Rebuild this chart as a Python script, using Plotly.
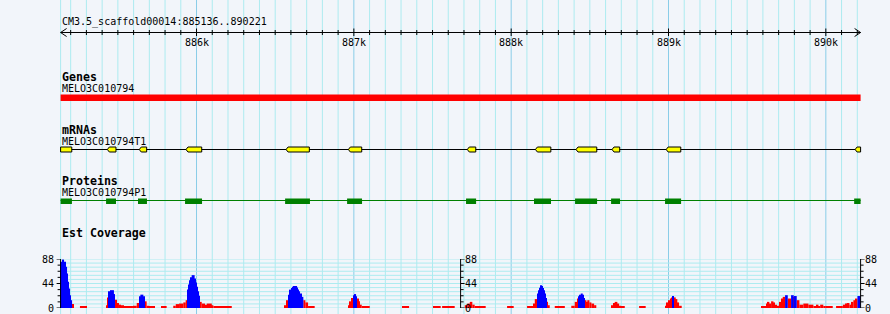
import plotly.graph_objects as go

# ---------------- data ----------------
region_label = "CM3.5_scaffold00014:885136..890221"
region_start = 885136
region_end = 890221

ruler_major = [886000, 887000, 888000, 889000, 890000]
ruler_major_labels = ["886k", "887k", "888k", "889k", "890k"]

gene_name = "MELO3C010794"
gene_start, gene_end = 885136, 890221

mrna_name = "MELO3C010794T1"
mrna_exon_start = [885136, 885433, 885636, 885933, 886569, 886965, 887721, 888154, 888412, 888641, 888985, 890186]
mrna_exon_end = [885207, 885488, 885683, 886033, 886717, 887050, 887775, 888252, 888544, 888690, 889078, 890221]

protein_name = "MELO3C010794P1"
cds_start = [885136, 885425, 885628, 885927, 886563, 886957, 887713, 888145, 888406, 888635, 888978, 890180]
cds_end = [885208, 885488, 885685, 886035, 886721, 887052, 887777, 888253, 888546, 888692, 889080, 890221]

cov_max = 88
cov_tick_labels = [0, 44, 88]

# EST coverage runs: start (bp), end (bp), depth, colour class (B = blue, R = red)
cov_start = [885136, 885145, 885158, 885170, 885177, 885183, 885189, 885196, 885202, 885209, 885215,
             885259,
             885425, 885433, 885442, 885450, 885475, 885482, 885493, 885507, 885520, 885539,
             885596, 885620, 885636, 885643, 885662, 885668, 885683, 885698,
             885774,
             885852, 885868, 885889, 885916, 885931, 885944, 885950, 885957, 885963, 885969, 885988,
             885995, 886001, 886008, 886016, 886022, 886033, 886054, 886065, 886097, 886107,
             886561, 886571, 886582, 886588, 886594, 886601, 886607, 886613, 886639, 886645, 886651,
             886658, 886666, 886679, 886692, 886709,
             886963, 886974, 886984, 886995, 887001, 887014, 887020, 887028, 887039, 887050,
             887306, 887503, 887561,
             887705, 887721, 887737, 887753, 887768,
             887974,
             888101, 888139, 888150, 888166, 888173, 888179, 888186, 888192, 888198, 888205, 888211,
             888217, 888224, 888234,
             888277,
             888382, 888404, 888419, 888430, 888436, 888442, 888455, 888461, 888468, 888478, 888484,
             888497, 888510, 888527,
             888637, 888648, 888658, 888675, 888686, 888694,
             888813,
             888978, 888989, 888999, 889010, 889021, 889027, 889034, 889046, 889056, 889067,
             889588, 889620, 889631, 889641, 889652, 889667, 889677, 889688, 889705, 889716, 889726,
             889741, 889758, 889779, 889796, 889803, 889815, 889832, 889857, 889889, 889921, 889943,
             889953, 889964, 889984, 890000,
             890065, 890108, 890122, 890133, 890150, 890165, 890175, 890191, 890201]
cov_end = [885145, 885158, 885170, 885177, 885183, 885189, 885196, 885202, 885209, 885215, 885221,
           885304,
           885433, 885442, 885450, 885475, 885482, 885493, 885507, 885520, 885539, 885596,
           885620, 885636, 885643, 885662, 885668, 885683, 885698, 885736,
           885810,
           885868, 885889, 885916, 885931, 885944, 885950, 885957, 885963, 885969, 885988, 885995,
           886001, 886008, 886016, 886022, 886033, 886054, 886065, 886097, 886107, 886224,
           886571, 886582, 886588, 886594, 886601, 886607, 886613, 886639, 886645, 886651, 886658,
           886666, 886679, 886692, 886709, 886751,
           886974, 886984, 886995, 887001, 887014, 887020, 887028, 887039, 887050, 887101,
           887351, 887552, 887641,
           887721, 887737, 887753, 887768, 887838,
           888016,
           888139, 888150, 888166, 888173, 888179, 888186, 888192, 888198, 888205, 888211, 888217,
           888224, 888234, 888245,
           888341,
           888404, 888419, 888430, 888436, 888442, 888455, 888461, 888468, 888478, 888484, 888497,
           888510, 888527, 888541,
           888648, 888658, 888675, 888686, 888694, 888722,
           888855,
           888989, 888999, 889010, 889021, 889027, 889034, 889046, 889056, 889067, 889084,
           889620, 889631, 889641, 889652, 889667, 889677, 889688, 889705, 889716, 889726, 889741,
           889758, 889779, 889796, 889803, 889815, 889832, 889857, 889889, 889921, 889943, 889953,
           889964, 889984, 890000, 890044,
           890108, 890122, 890133, 890150, 890165, 890175, 890191, 890201, 890221]
cov_depth = [83, 87, 83, 74, 62, 47, 35, 23, 14, 7, 2,
             2,
             5, 19, 30, 32, 25, 15, 9, 6, 5, 2,
             4, 9, 21, 24, 21, 12, 4, 2,
             2,
             4, 7, 8, 10, 14, 33, 42, 50, 55, 59, 53,
             46, 38, 30, 22, 11, 8, 6, 8, 5, 2,
             5, 14, 24, 30, 33, 36, 38, 39.5, 37, 33, 30,
             26, 20, 14, 10, 2,
             5, 12, 18, 23, 25, 21, 17, 12, 6, 2,
             2, 2, 2,
             5, 8, 11, 6, 2,
             2,
             2, 8, 16, 26, 32, 36.5, 41, 39.5, 36, 32, 26,
             18, 11, 5,
             2,
             4, 11, 17, 21, 24, 26, 24, 18, 14, 11, 14,
             10, 8, 5,
             5, 9, 11, 8, 4, 2,
             2,
             4, 10, 14, 17, 19, 21.5, 19, 16, 10, 4,
             3, 8, 11, 8, 12, 10, 6, 4, 11, 17, 20,
             23, 17, 23, 20, 21.5, 14, 6, 8, 6, 3,
             6, 3, 6, 3, 2,
             3, 6, 8, 9, 6, 11, 14, 17, 21.5]
cov_class = (["B"] * 9 + ["R"] * 2 +
             ["R"] +
             ["R", "R", "B", "B", "B", "R", "R", "R", "R", "R"] +
             ["R", "R", "B", "B", "B", "R", "R", "R"] +
             ["R"] +
             ["R"] * 5 + ["B"] * 10 + ["R"] * 6 +
             ["R"] * 2 + ["B"] * 11 + ["R"] * 3 +
             ["R"] * 3 + ["B"] * 3 + ["R"] * 4 +
             ["R"] * 3 +
             ["R"] * 5 +
             ["R"] +
             ["R"] * 3 + ["B"] * 9 + ["R"] * 2 +
             ["R"] +
             ["R"] * 3 + ["B"] * 5 + ["R"] * 6 +
             ["R"] * 6 +
             ["R"] +
             ["R"] * 5 + ["B"] + ["R"] * 4 +
             ["R"] * 11 + ["B", "R", "B", "R", "B"] + ["R"] * 10 +
             ["R"] * 8 + ["B"])

# ---------------- geometry / style ----------------
W, H = 890, 314
PX_LEFT, PX_RIGHT = 60.6, 860.6
px_per_bp = (PX_RIGHT - PX_LEFT) / (region_end - region_start)
x_lo = region_start - PX_LEFT / px_per_bp
x_hi = x_lo + W / px_per_bp
bp_per_px = 1.0 / px_per_bp

BG = "#F2F5FA"
GRID_MINOR = "#ADEBF0"
GRID_MAJOR = "#8ACDE8"
HGRID = "#ADEBF0"
FONT = "DejaVu Sans Mono"
BLUE = "#0000FF"
RED = "#FF0000"

shapes = []
annotations = []

# vertical grid lines every 100 bp
g = (region_start // 100 + 1) * 100
grid_pos = [region_start]
while g <= region_end:
    grid_pos.append(g)
    g += 100
for gp in grid_pos:
    major = gp % 1000 == 0
    shapes.append(dict(type="line", xref="x", yref="paper", x0=gp, x1=gp, y0=0, y1=1,
                       line=dict(color=GRID_MAJOR if major else GRID_MINOR, width=1), layer="below"))

# horizontal grid lines in coverage panel
nh = 12
for i in range(nh + 1):
    v = cov_max * i / nh
    shapes.append(dict(type="line", xref="x", yref="y2", x0=region_start, x1=region_end, y0=v, y1=v,
                       line=dict(color=HGRID, width=1), layer="below"))

# ruler
RY = 32.5
shapes.append(dict(type="line", xref="x", yref="y", x0=region_start, x1=region_end, y0=RY, y1=RY,
                   line=dict(color="black", width=1)))
for gp in grid_pos[1:]:
    major = gp % 1000 == 0
    shapes.append(dict(type="line", xref="x", yref="y", x0=gp, x1=gp,
                       y0=RY - (4 if major else 2.5), y1=RY + (3.5 if major else 2.5),
                       line=dict(color="black", width=1)))
a = 6 * bp_per_px
shapes.append(dict(type="path", xref="x", yref="y",
                   path=f"M {region_start + a},{RY - 4} L {region_start},{RY} L {region_start + a},{RY + 4}",
                   line=dict(color="black", width=1)))
shapes.append(dict(type="path", xref="x", yref="y",
                   path=f"M {region_end - a},{RY - 4} L {region_end},{RY} L {region_end - a},{RY + 4}",
                   line=dict(color="black", width=1)))

def text(x, y, s, size=10, bold=False, xanchor="left", xref="x"):
    annotations.append(dict(x=x, y=y, xref=xref, yref="y", text=f"<b>{s}</b>" if bold else s,
                            showarrow=False, xanchor=xanchor, yanchor="middle",
                            font=dict(family=FONT, size=size, color="black"), borderpad=0))

text(region_start, 21.8, region_label)
for p, lab in zip(ruler_major, ruler_major_labels):
    text(p, 42.5, lab, xanchor="center")

# Genes track
text(region_start, 76.5, "Genes", size=11.6, bold=True)
text(gene_start, 88.5, gene_name)
shapes.append(dict(type="rect", xref="x", yref="y", x0=gene_start, x1=gene_end, y0=94.5, y1=101,
                   fillcolor=RED, line=dict(width=0)))

# mRNA track
text(region_start, 129.5, "mRNAs", size=11.6, bold=True)
text(mrna_exon_start[0], 141, mrna_name)
MY = 149.5
shapes.append(dict(type="line", xref="x", yref="y", x0=mrna_exon_start[0], x1=mrna_exon_end[-1],
                   y0=MY, y1=MY, line=dict(color="black", width=1)))
n = 2 * bp_per_px
for i, (s, e) in enumerate(zip(mrna_exon_start, mrna_exon_end)):
    if i == 0:
        path = f"M {s},{MY - 2.5} L {e},{MY - 2.5} L {e},{MY + 2.5} L {s},{MY + 2.5} Z"
    else:
        path = (f"M {s},{MY} L {s + n},{MY - 2.5} L {e},{MY - 2.5} L {e},{MY + 2.5} "
                f"L {s + n},{MY + 2.5} Z")
    shapes.append(dict(type="path", xref="x", yref="y", path=path, fillcolor="#FFFF00",
                       line=dict(color="black", width=1)))

# Protein track
text(region_start, 180.5, "Proteins", size=11.6, bold=True)
text(cds_start[0], 192.5, protein_name)
PY = 201
shapes.append(dict(type="line", xref="x", yref="y", x0=cds_start[0], x1=cds_end[-1],
                   y0=PY - 0.5, y1=PY - 0.5, line=dict(color="#008000", width=1)))
for s, e in zip(cds_start, cds_end):
    shapes.append(dict(type="rect", xref="x", yref="y", x0=s, x1=e, y0=PY - 2.5, y1=PY + 3,
                       fillcolor="#008000", line=dict(width=0)))

# Coverage track
text(region_start, 232.5, "Est Coverage", size=11.6, bold=True)
axes_pos = [region_start, (region_start + region_end) / 2, region_end]
for j, ax in enumerate(axes_pos):
    shapes.append(dict(type="line", xref="x", yref="y2", x0=ax, x1=ax, y0=0, y1=cov_max,
                       line=dict(color="black", width=1)))
    direction = -1 if j == 0 else 1
    for t in range(0, cov_max + 1, 11):
        ln = (4 if t % 44 == 0 else 3) * bp_per_px
        shapes.append(dict(type="line", xref="x", yref="y2", x0=ax, x1=ax + direction * ln, y0=t, y1=t,
                           line=dict(color="black", width=1)))
    for t in cov_tick_labels:
        ypix = 308 - t * (49 / cov_max)
        if j == 0:
            annotations.append(dict(x=ax - 5 * bp_per_px, y=ypix, xref="x", yref="y", text=str(t),
                                    showarrow=False, xanchor="right", yanchor="middle",
                                    font=dict(family=FONT, size=10, color="black")))
        else:
            annotations.append(dict(x=ax + 2 * bp_per_px, y=ypix, xref="x", yref="y", text=str(t),
                                    showarrow=False, xanchor="left", yanchor="middle",
                                    font=dict(family=FONT, size=10, color="black")))

fig = go.Figure()
for cls, col in (("R", RED), ("B", BLUE)):
    xs, ws, ys = [], [], []
    for s, e, d, c in zip(cov_start, cov_end, cov_depth, cov_class):
        if c == cls:
            xs.append((s + e) / 2)
            ws.append(e - s)
            ys.append(d)
    fig.add_trace(go.Bar(x=xs, y=ys, width=ws, base=0, marker=dict(color=col, line=dict(width=0)),
                         xaxis="x", yaxis="y2", hoverinfo="skip", showlegend=False))

fig.update_layout(
    width=W, height=H, margin=dict(l=0, r=0, t=0, b=0),
    paper_bgcolor=BG, plot_bgcolor="rgba(0,0,0,0)",
    xaxis=dict(range=[x_lo, x_hi], visible=False, fixedrange=True),
    yaxis=dict(range=[H, 0], visible=False, fixedrange=True, domain=[0, 1]),
    yaxis2=dict(range=[0, cov_max], visible=False, domain=[6 / H, 55 / H], anchor="x", fixedrange=True),
    barmode="overlay", shapes=shapes, annotations=annotations, showlegend=False,
)
fig.write_html("out.html")
